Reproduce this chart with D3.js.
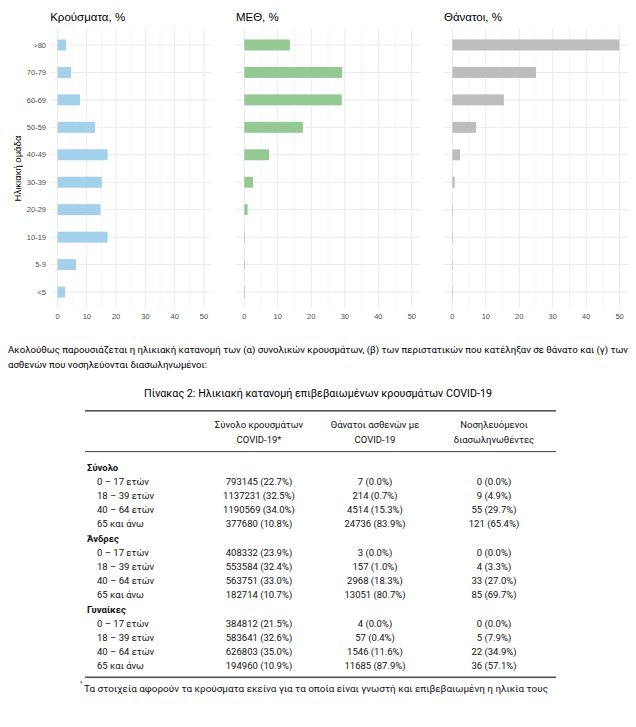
<!DOCTYPE html>
<html>
<head>
<meta charset="utf-8">
<script src="https://cdn.jsdelivr.net/npm/d3@7"></script>
<style>
  body { margin: 0; background: #fff; }
</style>
</head>
<body>
<div id="chart"></div>
<script>
// age groups, top row first
const ageGroups = [">80", "70-79", "60-69", "50-59", "40-49", "30-39", "20-29", "10-19", "5-9", "<5"]
const casesPct  = [2.9, 4.6, 7.7, 12.8, 17.1, 15.1, 14.7, 17.1, 6.3, 2.6]
const icuPct    = [13.6, 29.2, 29.1, 17.5, 7.4, 2.6, 1.0, 0.2, 0.1, 0.1]
const deathPct  = [49.9, 25.0, 15.4, 7.1, 2.3, 0.7, 0.2, 0.05, 0.05, 0.05]
const xTicks = [0, 10, 20, 30, 40, 50]
const xMinor = [5, 15, 25, 35, 45]

// table
const groupNames = ["Σύνολο", "Άνδρες", "Γυναίκες"]
const ageRows = ["0 – 17 ετών", "18 – 39 ετών", "40 – 64 ετών", "65 και άνω"]
const colHeads = [["Σύνολο κρουσμάτων", "COVID-19*"], ["Θάνατοι ασθενών με", "COVID-19"], ["Νοσηλευόμενοι", "διασωληνωθέντες"]]
const totalCases = [
  ["793145 (22.7%)", "1137231 (32.5%)", "1190569 (34.0%)", "377680 (10.8%)"],
  ["408332 (23.9%)", "553584 (32.4%)", "563751 (33.0%)", "182714 (10.7%)"],
  ["384812 (21.5%)", "583641 (32.6%)", "626803 (35.0%)", "194960 (10.9%)"]
]
const totalDeaths = [
  ["7 (0.0%)", "214 (0.7%)", "4514 (15.3%)", "24736 (83.9%)"],
  ["3 (0.0%)", "157 (1.0%)", "2968 (18.3%)", "13051 (80.7%)"],
  ["4 (0.0%)", "57 (0.4%)", "1546 (11.6%)", "11685 (87.9%)"]
]
const intubated = [
  ["0 (0.0%)", "9 (4.9%)", "55 (29.7%)", "121 (65.4%)"],
  ["0 (0.0%)", "4 (3.3%)", "33 (27.0%)", "85 (69.7%)"],
  ["0 (0.0%)", "5 (7.9%)", "22 (34.9%)", "36 (57.1%)"]
]

var width = 636, height = 727

var svg = d3.select("#chart").append("svg")
    .attr("width", width)
    .attr("height", height)
    .style("font-family", "'Liberation Sans', Arial, sans-serif")

const panels = [
  {title: "Κρούσματα, %", values: casesPct, col: "#a3d1ec", x0: 50.2, x1: 211.3},
  {title: "ΜΕΘ, %", values: icuPct, col: "#94c994", x0: 235.9, x1: 420.2},
  {title: "Θάνατοι, %", values: deathPct, col: "#bdbdbd", x0: 444, x1: 628}
]

const y = d3.scalePoint()
    .domain(ageGroups)
    .range([28.5, 308.5])
    .padding(0.6)
const barH = y.step() * 0.4

panels.forEach(function(p, k){
    const x = d3.scaleLinear().domain([-2.5, 52.5]).range([p.x0, p.x1])
    const g = svg.append("g")

    g.selectAll(".minor").data(xMinor).enter().append("line")
        .attr("x1", d => x(d)).attr("x2", d => x(d))
        .attr("y1", 28.5).attr("y2", 308.5)
        .attr("stroke", "#f0f0f0").attr("stroke-width", 0.6)
    g.selectAll(".major").data(xTicks).enter().append("line")
        .attr("x1", d => x(d)).attr("x2", d => x(d))
        .attr("y1", 28.5).attr("y2", 308.5)
        .attr("stroke", "#ebebeb").attr("stroke-width", 1)
    g.selectAll(".hgrid").data(ageGroups).enter().append("line")
        .attr("x1", p.x0).attr("x2", p.x1)
        .attr("y1", d => y(d)).attr("y2", d => y(d))
        .attr("stroke", "#ebebeb").attr("stroke-width", 1)

    g.selectAll(".bar").data(p.values).enter().append("rect")
        .attr("x", x(0))
        .attr("y", (d, i) => y(ageGroups[i]) - barH / 2)
        .attr("width", d => Math.max(0.6, x(d) - x(0)))
        .attr("height", barH)
        .attr("fill", p.col)

    g.selectAll(".xt").data(xTicks).enter().append("text")
        .attr("x", d => x(d)).attr("y", 318.5)
        .attr("text-anchor", "middle")
        .style("font-size", "7.5px").style("fill", "#4d4d4d")
        .text(d => d)

    g.append("text")
        .attr("x", p.x0).attr("y", 20.5)
        .style("font-size", "11.5px").style("fill", "#000")
        .text(p.title)

    if (k == 0) {
        g.selectAll(".yt").data(ageGroups).enter().append("text")
            .attr("x", 46).attr("y", d => y(d) + 2.7)
            .attr("text-anchor", "end")
            .style("font-size", "7.5px").style("fill", "#4d4d4d")
            .text(d => d)
        g.append("text")
            .attr("transform", "translate(21," + y.range().reduce((a, b) => (a + b) / 2) + ") rotate(-90)")
            .attr("text-anchor", "middle")
            .style("font-size", "9.5px").style("fill", "#000")
            .text("Ηλικιακή ομάδα")
    }
})

// text under the chart
const docFont = "Roboto, 'Noto Sans', sans-serif"
svg.append("text")
    .attr("x", 8).attr("y", 353)
    .attr("textLength", 620).attr("lengthAdjust", "spacingAndGlyphs")
    .style("font-family", docFont).style("font-size", "9.6px")
    .text("Ακολούθως παρουσιάζεται η ηλικιακή κατανομή των (α) συνολικών κρουσμάτων, (β) των περιστατικών που κατέληξαν σε θάνατο και (γ) των")
svg.append("text")
    .attr("x", 8).attr("y", 367.5)
    .attr("textLength", 199).attr("lengthAdjust", "spacingAndGlyphs")
    .style("font-family", docFont).style("font-size", "9.6px")
    .text("ασθενών που νοσηλεύονται διασωληνωμένοι:")
svg.append("text")
    .attr("x", 144).attr("y", 397)
    .attr("textLength", 348).attr("lengthAdjust", "spacingAndGlyphs")
    .style("font-family", docFont).style("font-size", "10.4px")
    .text("Πίνακας 2: Ηλικιακή κατανομή επιβεβαιωμένων κρουσμάτων COVID-19")

// table
const tb = svg.append("g").style("font-family", docFont).style("font-size", "9.5px").style("fill", "#111")
const colX = [259, 375, 494]
const tl = 85, tr = 556
tb.append("rect").attr("x", tl).attr("y", 410).attr("width", tr - tl).attr("height", 1.6).attr("fill", "#555")
tb.append("rect").attr("x", tl).attr("y", 451).attr("width", tr - tl).attr("height", 1.1).attr("fill", "#555")
tb.append("rect").attr("x", tl).attr("y", 676.5).attr("width", tr - tl).attr("height", 1.6).attr("fill", "#555")

colHeads.forEach(function(h, c){
    h.forEach(function(line, j){
        tb.append("text").attr("x", colX[c]).attr("y", 427.5 + j * 15)
            .attr("text-anchor", "middle").text(line)
    })
})

const rowPitch = 14.2
groupNames.forEach(function(gname, gi){
    const top = 470.5 + gi * 5 * rowPitch
    tb.append("text").attr("x", 87).attr("y", top)
        .style("font-weight", "bold").text(gname)
    ageRows.forEach(function(r, ri){
        const yy = top + (ri + 1) * rowPitch
        tb.append("text").attr("x", 97).attr("y", yy).text(r)
        tb.append("text").attr("x", colX[0]).attr("y", yy).attr("text-anchor", "middle").text(totalCases[gi][ri])
        tb.append("text").attr("x", colX[1]).attr("y", yy).attr("text-anchor", "middle").text(totalDeaths[gi][ri])
        tb.append("text").attr("x", colX[2]).attr("y", yy).attr("text-anchor", "middle").text(intubated[gi][ri])
    })
})

tb.append("text").attr("x", 80).attr("y", 685).style("font-size", "6px").text("*")
tb.append("text").attr("x", 84).attr("y", 691.5)
    .attr("textLength", 464).attr("lengthAdjust", "spacingAndGlyphs")
    .style("font-size", "9.6px")
    .text("Τα στοιχεία αφορούν τα κρούσματα εκείνα για τα οποία είναι γνωστή και επιβεβαιωμένη η ηλικία τους")
</script>
</body>
</html>
